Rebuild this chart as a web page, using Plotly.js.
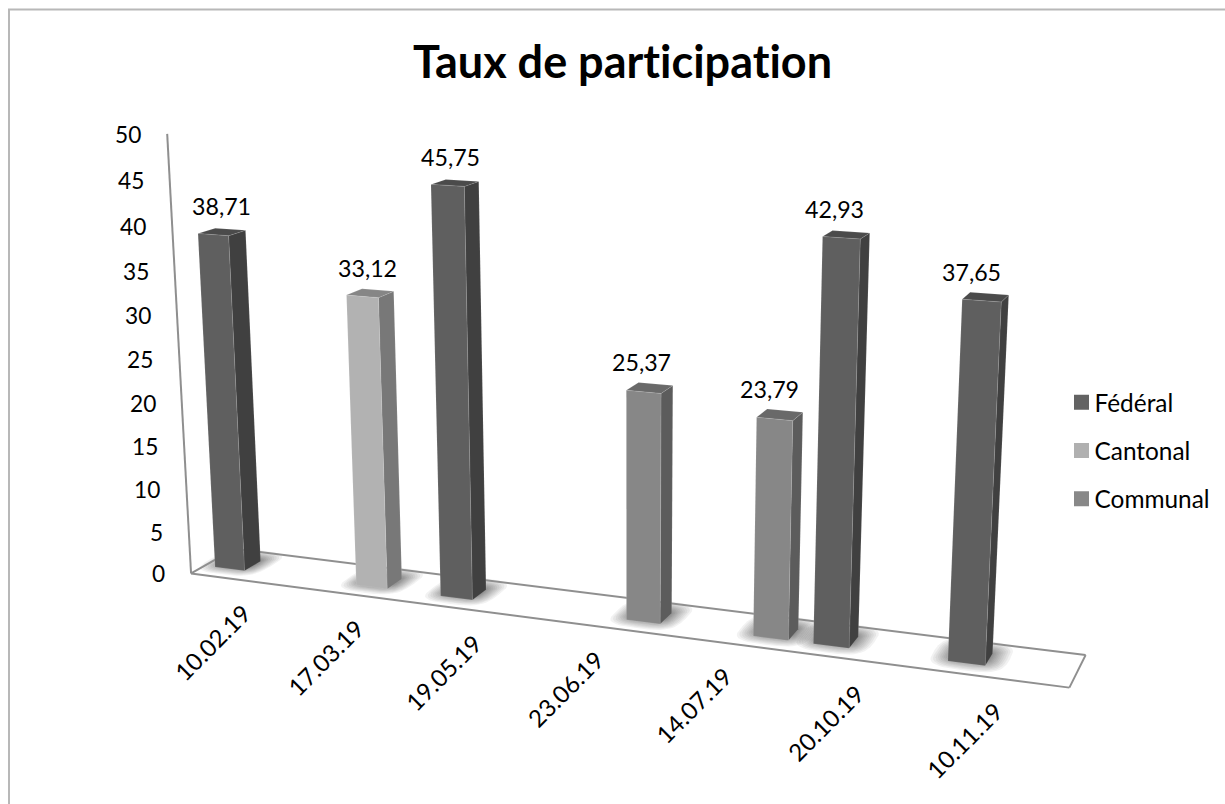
<!DOCTYPE html><html><head><meta charset="utf-8"><script src="https://cdn.plot.ly/plotly-3.0.1.min.js"></script>
<style>text{font-variant-ligatures:none;font-feature-settings:"liga" 0,"dlig" 0}</style></head><body style="margin:0;background:#fff">
<div id="c" style="width:1225px;height:804px"></div>
<script>
const dates=['10.02.19','17.03.19','19.05.19','23.06.19','14.07.19','20.10.19','10.11.19'];
const federal =[38.71,null,45.75,null,null,42.93,37.65];
const cantonal=[null,33.12,null,null,null,null,null];
const communal=[null,null,null,25.37,23.79,null,null];
const seriesNames=['Fédéral','Cantonal','Communal'];
const yTicks=[0,5,10,15,20,25,30,35,40,45,50];
const title='Taux de participation';

// chart styling
const FONT='Lato, "Open Sans", sans-serif';
const faces=[{front:'#5f5f5f',side:'#404040',top:'#4b4b4b',swatch:'#636363'},
             {front:'#b2b2b2',side:'#787878',top:'#868686',swatch:'#b0b0b0'},
             {front:'#878787',side:'#5c5c5c',top:'#696969',swatch:'#888888'}];
const gapU=0.095,barU=0.27,d0=0.31,d1=0.69,frame='#8f8f8f';

// camera of the 3-D scene: (category, depth, value) -> page position
const C=[105.5861,51.31318,-0.6493292,191.0571,3.518923,-5.841548,-8.930010,573.4641,-0.01859819,0.03427067,-0.001029107];
function proj(u,d,v){const w=C[8]*u+C[9]*d+C[10]*v+1;
  return [(C[0]*u+C[1]*d+C[2]*v+C[3])/w,(C[4]*u+C[5]*d+C[6]*v+C[7])/w];}
function poly(ps,color,line){const q=ps.map(p=>proj(...p));
  return {x:[...q.map(p=>p[0]),q[0][0]],y:[...q.map(p=>p[1]),q[0][1]],mode:'lines',fill:'toself',fillcolor:color,
    line:line||{width:0,color:color},hoverinfo:'skip',showlegend:false};}

const traces=[];
const all=[federal,cantonal,communal];
const bars=[];
all.forEach((vals,s)=>vals.forEach((v,i)=>{if(v!==null)bars.push({i,s,v});}));
bars.sort((a,b)=>a.i-b.i);
// soft shadows under the bars
const LAYERS=14;
bars.forEach(b=>{const u=b.i+gapU+b.s*barU,cu=u+barU/2,cd=0.58;
  for(let l=0;l<LAYERS;l++){const t=1-l/LAYERS,e=t*t*0.5+t*0.5;
    const ru=barU/2-0.02+0.16*e,rd=0.14+0.34*e,ps=[];
    for(let a=0;a<40;a++){const th=a/40*2*Math.PI,c=Math.cos(th),sn=Math.sin(th);
      ps.push([cu+ru*Math.sign(c)*Math.pow(Math.abs(c),0.6),cd+rd*Math.sign(sn)*Math.pow(Math.abs(sn),0.6),0]);}
    traces.push(poly(ps,'rgba(40,40,40,0.06)'));}
});
// floor frame and value axis
const frameLine=(a,b)=>{const p=proj(...a),q=proj(...b);traces.push({x:[p[0],q[0]],y:[p[1],q[1]],mode:'lines',line:{color:frame,width:2},hoverinfo:'skip',showlegend:false});};
frameLine([0,0,0],[0,0,50]);
frameLine([0,0,0],[0,1,0]);
frameLine([0,1,0],[7,1,0]);
frameLine([7,1,0],[7,0,0]);
frameLine([0,0,0],[7,0,0]);
// bars
const edge={width:1,color:'rgba(255,255,255,0.1)'};
bars.forEach(b=>{const u=b.i+gapU+b.s*barU,u2=u+barU,f=faces[b.s];
  traces.push(poly([[u2,d0,0],[u2,d1,0],[u2,d1,b.v],[u2,d0,b.v]],f.side,edge));
  traces.push(poly([[u,d0,b.v],[u2,d0,b.v],[u2,d1,b.v],[u,d1,b.v]],f.top,edge));
  traces.push(poly([[u,d0,0],[u2,d0,0],[u2,d0,b.v],[u,d0,b.v]],f.front,edge));
});
// legend entries
seriesNames.forEach((n,s)=>traces.push({x:[null],y:[null],name:n,legendgroup:n,mode:'markers',type:'scatter',
  marker:{symbol:'square',size:15,color:faces[s].swatch},showlegend:true}));

const annotations=[];
// value axis labels
yTicks.forEach(t=>{const p=proj(0,0,t);annotations.push({x:p[0]-24,y:p[1]+0.5,text:String(t),xanchor:'right',yanchor:'middle',showarrow:false,font:{family:FONT,size:22.7,color:'#000'}});});
// date labels
dates.forEach((t,i)=>{const p=proj(i+0.5,0,0);annotations.push({x:p[0]-34,y:p[1]+62,text:t,textangle:-45,xanchor:'center',yanchor:'middle',showarrow:false,font:{family:FONT,size:24,color:'#000'}});});
// data labels
bars.forEach(b=>{const u=b.i+gapU+b.s*barU;const p=proj(u+barU/2,(d0+d1)/2,b.v);
  annotations.push({x:p[0]-(p[0]-222)*0.019,y:p[1]-25.5,text:b.v.toFixed(2).replace('.',','),xanchor:'center',yanchor:'middle',showarrow:false,font:{family:FONT,size:23.2,color:'#000'}});});

Plotly.newPlot('c',traces,{
  width:1225,height:804,margin:{l:0,r:0,t:0,b:0},paper_bgcolor:'#fff',plot_bgcolor:'#fff',
  title:{text:title,x:622.5/1225,xanchor:'center',y:1-62/804,yanchor:'middle',font:{family:FONT,size:45,weight:700,color:'#000'}},
  xaxis:{range:[0,1225],visible:false,fixedrange:true},yaxis:{range:[804,0],visible:false,fixedrange:true},
  showlegend:true,
  legend:{x:1061.5/1225,y:1-451/804,xanchor:'left',yanchor:'middle',itemsizing:'trace',tracegroupgap:13.5,font:{family:FONT,size:24.4,color:'#000'},bgcolor:'rgba(0,0,0,0)'},
  shapes:[{type:'rect',xref:'x',yref:'y',x0:9,x1:1240,y0:9.5,y1:820,line:{color:'#b8b8b8',width:2},layer:'below'}],
  annotations
},{displayModeBar:false}).then(()=>{document.querySelectorAll('.legendtext').forEach(t=>t.setAttribute('x',33));});
</script></body></html>
